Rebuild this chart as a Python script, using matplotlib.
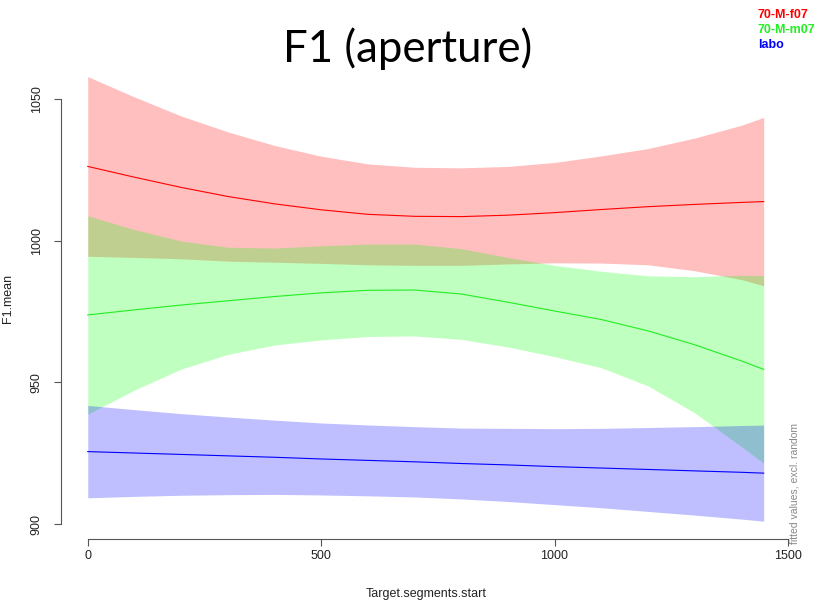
import matplotlib
matplotlib.use("Agg")
import matplotlib.pyplot as plt
import numpy as np

# smooth estimates (fit +/- ci)
time = [0, 100, 200, 300, 400, 500, 600, 700, 800, 900, 1000, 1100, 1200, 1300, 1400, 1448]

f07_fit = [1026.2, 1022.4, 1018.8, 1015.6, 1013.0, 1010.9, 1009.3, 1008.6, 1008.5, 1009.0,
           1009.9, 1011.0, 1012.0, 1012.8, 1013.5, 1013.8]
f07_ci = [31.7, 28.3, 25.2, 22.8, 20.6, 18.9, 17.8, 17.3, 17.2, 17.2,
          17.7, 18.9, 20.5, 23.4, 27.2, 29.7]

m07_fit = [973.8, 975.6, 977.3, 978.8, 980.3, 981.6, 982.5, 982.6, 981.2, 978.3,
           975.2, 972.2, 968.2, 963.3, 957.6, 954.6]
m07_ci = [35.0, 28.3, 22.6, 18.9, 17.1, 16.6, 16.3, 16.2, 16.0, 15.8,
          16.1, 17.0, 19.4, 24.0, 30.2, 33.1]

labo_fit = [925.6, 925.1, 924.6, 924.1, 923.6, 923.0, 922.5, 922.0, 921.4, 920.9,
            920.3, 919.8, 919.3, 918.8, 918.3, 918.0]
labo_ci = [16.3, 15.3, 14.4, 13.7, 13.1, 12.7, 12.5, 12.4, 12.5, 12.9,
           13.4, 14.0, 14.8, 15.6, 16.5, 16.95]

groups = ["70-M-f07", "70-M-m07", "labo"]
colors = ["#FF0000", "#22EE22", "#0000FF"]
fills = ["#FF0000", "#00FF00", "#0000FF"]

xticks = [0, 500, 1000, 1500]
yticks = [900, 950, 1000, 1050]

plt.rcParams['font.family'] = ['Liberation Sans', 'DejaVu Sans']

fig = plt.figure(figsize=(8.16, 6.01), dpi=100)
ax = fig.add_axes([0.0744, 0.1032, 0.969 - 0.0744, 0.9022 - 0.1032])

fits = [f07_fit, m07_fit, labo_fit]
cis = [f07_ci, m07_ci, labo_ci]
all_lo, all_hi = [], []
for fit, ci, col, fcol in zip(fits, cis, colors, fills):
    fit = np.array(fit)
    ci = np.array(ci)
    ax.fill_between(time, fit - ci, fit + ci, color=fcol, alpha=0.25, lw=0)
    ax.plot(time, fit, color=col, lw=0.8)
    all_lo.append((fit - ci).min())
    all_hi.append((fit + ci).max())

# R style 4% expansion
lo, hi = min(all_lo), max(all_hi)
ax.set_ylim(lo - 0.04 * (hi - lo), hi + 0.04 * (hi - lo))
xr = max(time) - min(time)
ax.set_xlim(min(time) - 0.04 * xr, max(time) + 0.04 * xr)

ax.set_xticks(xticks)
ax.set_yticks(yticks)
ax.set_xticklabels([str(t) for t in xticks], fontsize=9, color='#222222')
ax.set_yticklabels([str(t) for t in yticks], fontsize=9, color='#222222',
                   rotation=90, va='center')
ax.tick_params(axis='x', length=5, width=0.8, color='#555555', pad=3)
ax.tick_params(axis='y', length=5, width=0.8, color='#555555', pad=8)

for s in ['top', 'right']:
    ax.spines[s].set_visible(False)
ax.spines['left'].set_bounds(yticks[0], yticks[-1])
ax.spines['bottom'].set_bounds(xticks[0], xticks[-1])
ax.spines['left'].set_color('#555555')
ax.spines['bottom'].set_color('#555555')
ax.spines['left'].set_linewidth(0.8)
ax.spines['bottom'].set_linewidth(0.8)

ax.set_xlabel("Target.segments.start", fontsize=9, color='#222222', labelpad=19)
ax.set_ylabel("F1.mean", fontsize=9, color='#222222')
ax.yaxis.set_label_coords(-0.064, 0.5)

fig.text(0.5, 0.8973, "F1 (aperture)", fontsize=31.5, family=['Lato', 'DejaVu Sans'],
         ha='center', va='baseline', color='black')

# legend in the corner
for i, (g, c) in enumerate(zip(groups, colors)):
    fig.text(0.9286, 0.970 - i * 0.025, g, fontsize=9, fontweight='bold', color=c,
             ha='left', va='baseline')

fig.text(0.974, 0.195, "fitted values, excl. random", fontsize=7.5, color='#888888',
         rotation=90, ha='center', va='center')

fig.savefig("out.png", dpi=100)
